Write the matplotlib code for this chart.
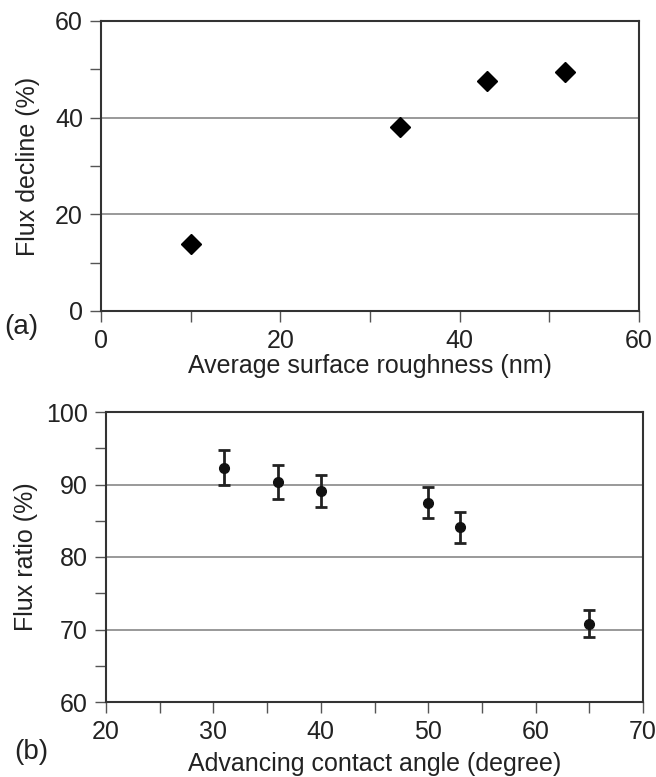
import matplotlib.pyplot as plt
from matplotlib.ticker import MultipleLocator

plt.rcParams['font.family'] = ['Liberation Sans', 'DejaVu Sans']

# (a) flux decline vs roughness
roughness = [10, 33.3, 43.1, 51.8]
flux_decline = [13.9, 38.0, 47.5, 49.4]

# (b) flux ratio vs contact angle
angle = [31, 36, 40, 50, 53, 65]
flux_ratio = [92.3, 90.4, 89.1, 87.5, 84.1, 70.8]
ratio_err = [2.4, 2.35, 2.2, 2.15, 2.1, 1.85]

W, H = 656, 777
fig = plt.figure(figsize=(W / 100, H / 100), dpi=100)
fs = 18
edge = '#333333'
txt = '#222222'


def style(ax):
    for s in ax.spines.values():
        s.set_color(edge)
        s.set_linewidth(1.5)
    ax.tick_params(which='both', direction='out', color='#555555', width=1,
                   labelsize=fs, labelcolor=txt, pad=5)
    ax.tick_params(which='major', length=8)
    ax.tick_params(which='minor', length=8)
    ax.grid(axis='y', which='major', color='#888888', lw=1.2)
    ax.set_axisbelow(True)


ax1 = fig.add_axes([101 / W, 1 - 311 / H, (639 - 101) / W, (311 - 21) / H])
ax1.plot(roughness, flux_decline, 'D', color='black', ms=10, mec='black')
ax1.set_xlim(0, 60)
ax1.set_ylim(0, 60)
ax1.xaxis.set_major_locator(MultipleLocator(20))
ax1.xaxis.set_minor_locator(MultipleLocator(10))
ax1.yaxis.set_major_locator(MultipleLocator(20))
ax1.yaxis.set_minor_locator(MultipleLocator(10))
style(ax1)
ax1.set_xlabel('Average surface roughness (nm)', fontsize=fs, color=txt, labelpad=1)
ax1.set_ylabel('Flux decline (%)', fontsize=fs, color=txt, labelpad=11)
fig.text(4 / W, 1 - 327 / H, '(a)', fontsize=fs + 2, color=txt, va='center')

ax2 = fig.add_axes([106 / W, 1 - 702 / H, (643 - 106) / W, (702 - 412) / H])
ax2.errorbar(angle, flux_ratio, yerr=ratio_err, fmt='o', color='#111111',
             ms=7, ecolor='#222222', elinewidth=2, capsize=4, capthick=2)
ax2.set_xlim(20, 70)
ax2.set_ylim(60, 100)
ax2.xaxis.set_major_locator(MultipleLocator(10))
ax2.xaxis.set_minor_locator(MultipleLocator(5))
ax2.yaxis.set_major_locator(MultipleLocator(10))
ax2.yaxis.set_minor_locator(MultipleLocator(5))
style(ax2)
ax2.set_xlabel('Advancing contact angle (degree)', fontsize=fs, color=txt, labelpad=6)
ax2.set_ylabel('Flux ratio (%)', fontsize=fs, color=txt, labelpad=6)
fig.text(14 / W, 1 - 752 / H, '(b)', fontsize=fs + 2, color=txt, va='center')

fig.savefig('out.png', dpi=100)
